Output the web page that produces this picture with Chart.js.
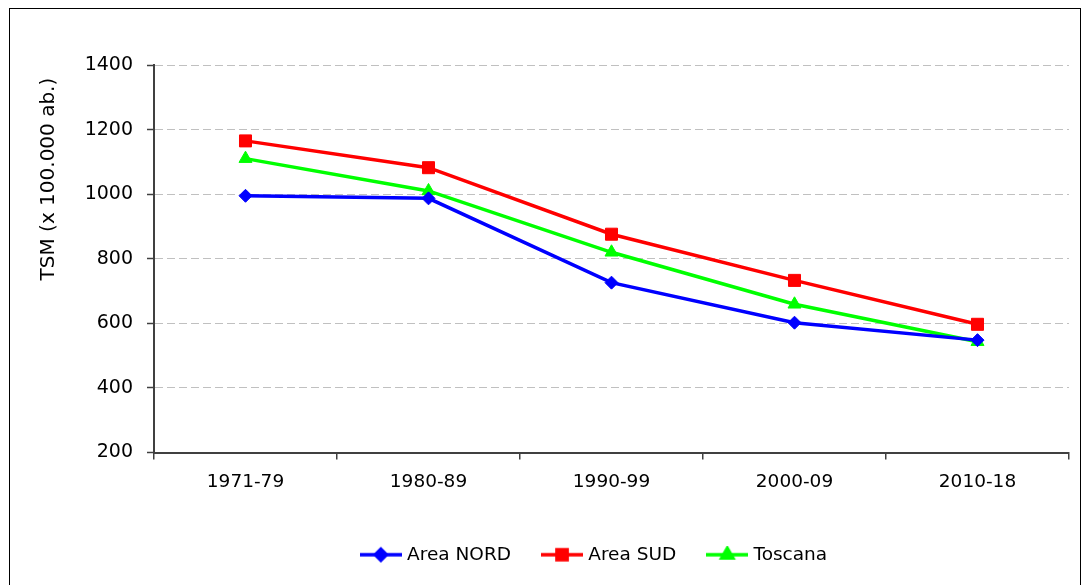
<!DOCTYPE html>
<html><head><meta charset="utf-8">
<script src="https://cdn.jsdelivr.net/npm/chart.js@4/dist/chart.umd.min.js"></script>
<style>
html,body{margin:0;padding:0;background:#fff;}
#wrap{position:relative;width:1084px;height:585px;overflow:hidden;background:#fff;}
#frame{position:absolute;left:9px;top:8px;width:1070px;height:600px;border:1px solid #000;pointer-events:none;}
canvas{position:absolute;left:0;top:0;}
</style></head><body>
<div id="wrap"><canvas id="c" width="1084" height="585"></canvas><div id="frame"></div></div>
<script>
const categories = ['1971-79', '1980-89', '1990-99', '2000-09', '2010-18'];
const areaNord = [995, 987, 726, 602, 548];
const areaSud = [1165, 1082, 876, 733, 597];
const toscana = [1110, 1010, 820, 659, 543];
const seriesNames = ['Area NORD', 'Area SUD', 'Toscana'];
const yTitle = 'TSM (x 100.000 ab.)';
const yMin = 200, yMax = 1400, yStep = 200;

const FONT = 'DejaVu Sans';
const styles = [
  {color: '#0000ff', point: 'rectRot', r: 6.5},
  {color: '#ff0000', point: 'rect', r: 8.5},
  {color: '#00ff00', point: 'triangle', r: 7.5}
];
const seriesData = [areaNord, areaSud, toscana];

function legendIcon(s) {
  const c = document.createElement('canvas');
  c.width = 42; c.height = 18;
  const ctx = c.getContext('2d');
  ctx.strokeStyle = s.color; ctx.lineWidth = 3.5;
  ctx.beginPath(); ctx.moveTo(0, 9); ctx.lineTo(42, 9); ctx.stroke();
  ctx.fillStyle = s.color; ctx.strokeStyle = s.color;
  Chart.helpers.drawPoint(ctx, {pointStyle: s.point, radius: s.r * 0.85, borderWidth: 1, rotation: 0}, 21, 9);
  return c;
}
const icons = styles.map(legendIcon);

// shift the legend block so it is centred where the reference centres it
const legendShift = {
  id: 'legendShift',
  afterLayout(chart) {
    const lg = chart.legend;
    if (lg) { lg.left += 46; lg.right += 46; }
  }
};

const axisColor = '#404040';
new Chart(document.getElementById('c'), {
  type: 'line',
  data: {
    labels: categories,
    datasets: seriesNames.map((n, i) => ({
      label: n,
      data: seriesData[i],
      borderColor: styles[i].color,
      backgroundColor: styles[i].color,
      borderWidth: 3.5,
      pointStyle: styles[i].point,
      pointRadius: styles[i].r,
      pointBorderWidth: 1,
      pointBackgroundColor: styles[i].color,
      pointBorderColor: styles[i].color,
      tension: 0,
      fill: false
    }))
  },
  plugins: [legendShift],
  options: {
    responsive: false,
    devicePixelRatio: 1,
    animation: false,
    layout: {padding: {left: 30, top: 65, right: 15, bottom: 11}},
    plugins: {
      tooltip: {enabled: false},
      legend: {
        position: 'bottom',
        labels: {
          font: {family: FONT, size: 18.5},
          color: '#000',
          usePointStyle: true,
          pointStyleWidth: 34,
          boxHeight: 18,
          padding: 34,
          generateLabels(chart) {
            return chart.data.datasets.map((d, i) => ({
              text: d.label, pointStyle: icons[i], fillStyle: d.borderColor,
              strokeStyle: d.borderColor, lineWidth: 0, hidden: false, datasetIndex: i, fontColor: '#000'
            }));
          }
        }
      }
    },
    scales: {
      x: {
        offset: true,
        afterFit(s) { s.height = 59; },
        grid: {
          offset: true, drawOnChartArea: true, drawTicks: true, tickLength: 7,
          tickColor: axisColor, tickWidth: 1.5, lineWidth: 1.5,
          color: (ctx) => ctx.index === categories.length ? '#a8a8a8' : 'rgba(0,0,0,0)'
        },
        border: {color: axisColor, width: 2},
        ticks: {font: {family: FONT, size: 18.5}, color: '#000', padding: 12}
      },
      y: {
        min: yMin, max: yMax,
        afterFit(s) { s.width = 124; },
        ticks: {stepSize: yStep, font: {family: FONT, size: 19}, color: '#000', padding: 14,
                callback: (v) => String(v)},
        grid: {color: '#c0c0c0', lineWidth: 1, tickLength: 7, tickColor: axisColor, tickWidth: 1.5},
        border: {color: axisColor, width: 2, dash: [8, 4]},
        title: {display: true, text: yTitle + '  ', align: 'end', font: {family: FONT, size: 20}, color: '#000',
                padding: {top: 7, bottom: 0}}
      }
    }
  }
});
</script>
</body></html>
